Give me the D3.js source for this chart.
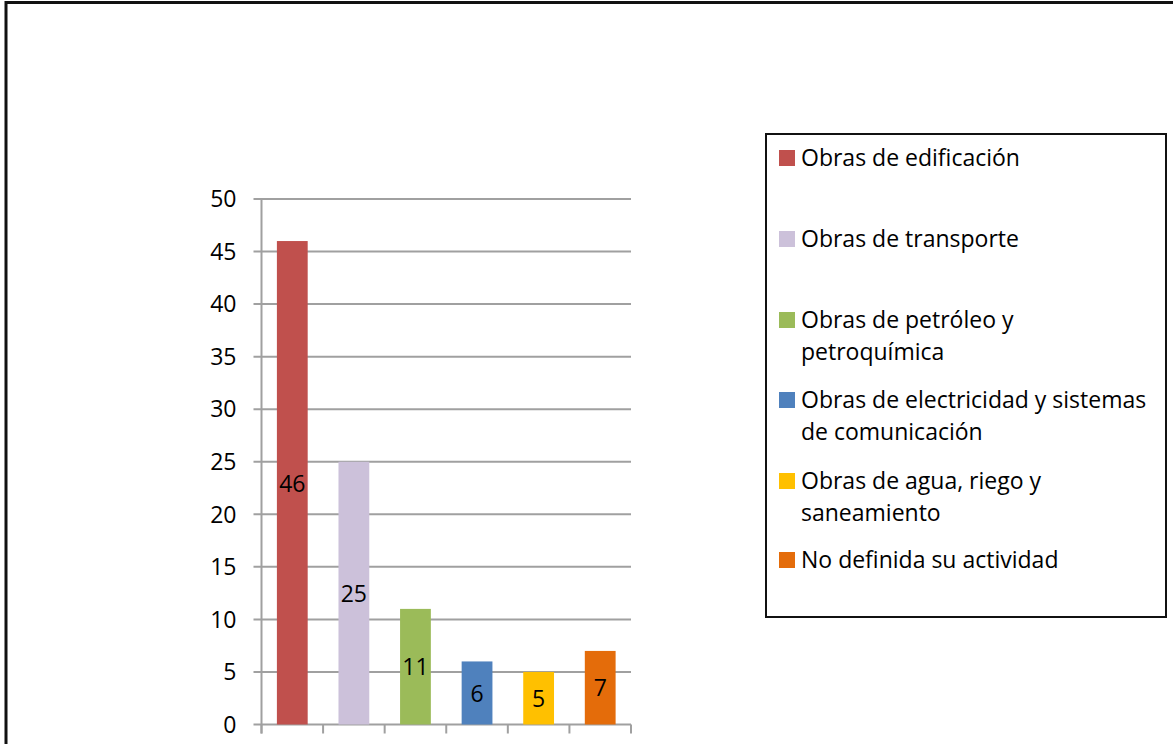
<!DOCTYPE html>
<html>
<head>
<meta charset="utf-8">
<script src="https://cdn.jsdelivr.net/npm/d3@7"></script>
<style>
  body { margin: 0; background: #fff; }
  svg text { font-family: "Open Sans", Lato, sans-serif; fill: #000; }
</style>
</head>
<body>
<div id="chart"></div>
<script>
// data
var categories = ["Obras de edificación", "Obras de transporte", "Obras de petróleo y petroquímica",
  "Obras de electricidad y sistemas de comunicación", "Obras de agua, riego y saneamiento", "No definida su actividad"];
var values = [46, 25, 11, 6, 5, 7];
var colors = ["#C0504D", "#CCC1DA", "#9BBB59", "#4F81BD", "#FFC000", "#E46C0A"];
var legendLines = [["Obras de edificación"], ["Obras de transporte"], ["Obras de petróleo y", "petroquímica"],
  ["Obras de electricidad y sistemas", "de comunicación"], ["Obras de agua, riego y", "saneamiento"], ["No definida su actividad"]];
var yTicks = [0, 5, 10, 15, 20, 25, 30, 35, 40, 45, 50];

var w = 1173, h = 744;
var svg = d3.select("div#chart").append("svg").attr("width", w).attr("height", h);

// outer frame (left + top visible)
svg.append("path").attr("d", "M6,744 V2.5 H1173").attr("fill", "none").attr("stroke", "#111").attr("stroke-width", 3);

var pLeft = 261.5, pRight = 631, pTop = 199, pBottom = 724.5;
var y = d3.scaleLinear().domain([0, 50]).range([pBottom, pTop]);
var x = d3.scaleBand().domain(d3.range(values.length)).range([pLeft, pRight]).paddingInner(0.5).paddingOuter(0.25);

// gridlines + y ticks
svg.selectAll("line.grid").data(yTicks).enter().append("line")
  .attr("class", "grid")
  .attr("x1", pLeft - 8).attr("x2", pRight)
  .attr("y1", function(d) { return y(d); }).attr("y2", function(d) { return y(d); })
  .attr("stroke", "#A0A0A0").attr("stroke-width", 2);

svg.selectAll("text.ytick").data(yTicks).enter().append("text")
  .attr("class", "ytick")
  .attr("x", pLeft - 25).attr("y", function(d) { return y(d); })
  .attr("dy", "0.36em").attr("text-anchor", "end")
  .style("font-size", "23px")
  .text(function(d) { return d; });

// y axis line
svg.append("line").attr("x1", pLeft).attr("x2", pLeft).attr("y1", pTop).attr("y2", pBottom + 9)
  .attr("stroke", "#A0A0A0").attr("stroke-width", 2);

// x ticks at category boundaries
var step = (pRight - pLeft) / values.length;
svg.selectAll("line.xtick").data(d3.range(values.length + 1)).enter().append("line")
  .attr("class", "xtick")
  .attr("x1", function(d) { return pLeft + d * step; }).attr("x2", function(d) { return pLeft + d * step; })
  .attr("y1", pBottom).attr("y2", pBottom + 9)
  .attr("stroke", "#A0A0A0").attr("stroke-width", 2);

// bars
svg.selectAll("rect.bar").data(values).enter().append("rect")
  .attr("class", "bar")
  .attr("x", function(d, i) { return x(i); })
  .attr("width", x.bandwidth())
  .attr("y", function(d) { return y(d); })
  .attr("height", function(d) { return pBottom - y(d); })
  .attr("fill", function(d, i) { return colors[i]; });

// value labels, centered in the bar
svg.selectAll("text.val").data(values).enter().append("text")
  .attr("class", "val")
  .attr("x", function(d, i) { return x(i) + x.bandwidth() / 2; })
  .attr("y", function(d) { return (y(d) + pBottom) / 2; })
  .attr("dy", "0.38em").attr("text-anchor", "middle")
  .style("font-size", "23px")
  .text(function(d) { return d; });

// legend
var lg = svg.append("g");
lg.append("rect").attr("x", 766).attr("y", 134).attr("width", 400).attr("height", 483)
  .attr("fill", "#fff").attr("stroke", "#111").attr("stroke-width", 2);

var itemY = [158, 239, 320, 400, 481, 560];
var items = lg.selectAll("g.item").data(legendLines).enter().append("g").attr("class", "item")
  .attr("transform", function(d, i) { return "translate(0," + itemY[i] + ")"; });
items.append("rect").attr("x", 779).attr("y", -8).attr("width", 16).attr("height", 16)
  .attr("fill", function(d, i) { return colors[i]; });
items.each(function(lines) {
  var g = d3.select(this);
  lines.forEach(function(t, k) {
    g.append("text").attr("x", 801).attr("y", k * 32).attr("dy", "0.36em")
      .style("font-size", "23px").text(t);
  });
});
</script>
</body>
</html>
